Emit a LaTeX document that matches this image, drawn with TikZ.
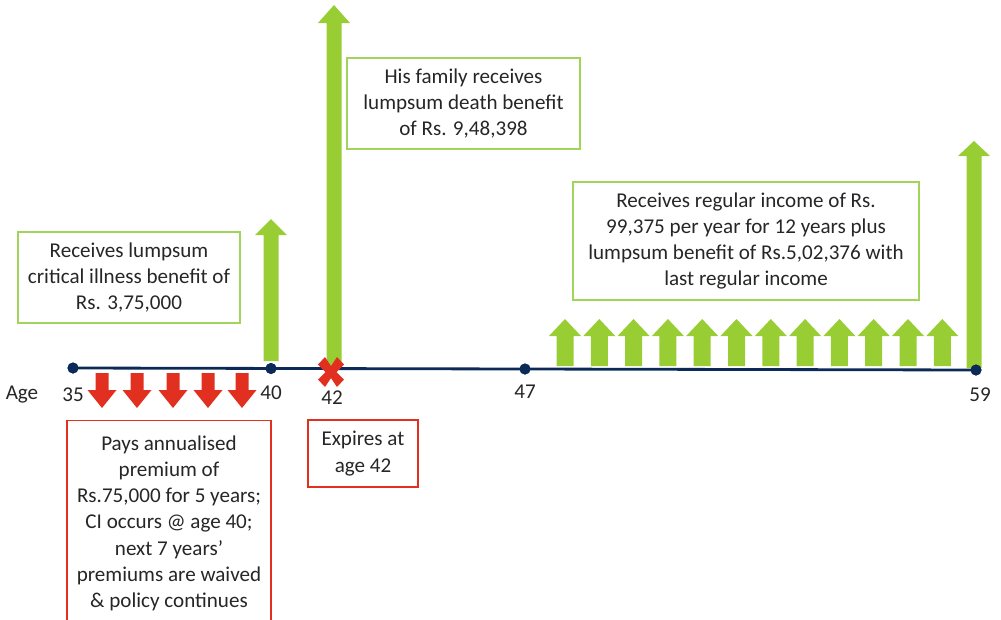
\documentclass[tikz,border=0pt]{standalone}
\usepackage{fontspec}
\setmainfont{Carlito}
\usepackage{xcolor}
\definecolor{navyline}{RGB}{12,42,88}
\definecolor{benefitgreen}{RGB}{152,206,52}
\definecolor{boxgreen}{RGB}{160,212,90}
\definecolor{premiumred}{RGB}{226,48,32}
\definecolor{textgray}{RGB}{38,38,38}
\usepackage{tikz}
\usetikzlibrary{calc}
% style, x, base y, neck y, tip y, half head, half shaft
\newcommand{\blockarrow}[7]{%
  \fill[#1] ({#2-#7},#3) -- ({#2-#7},#4) -- ({#2-#6},#4) -- (#2,#5)
    -- ({#2+#6},#4) -- ({#2+#7},#4) -- ({#2+#7},#3) -- cycle;}
\tikzset{
    px/.style={x=0.02cm, y=-0.02cm},
    txt/.style={text=textgray, font=\fontsize{12}{14.9}\selectfont, align=center},
    note/.style={txt, draw, line width=0.85pt, inner sep=0pt},
    greennote/.style={note, draw=boxgreen},
    rednote/.style={note, draw=premiumred},
    tick/.style={circle, fill=navyline, inner sep=0pt, minimum size=0.22cm},
    agelabel/.style={txt, inner sep=0pt},
    benefit/.style={fill=benefitgreen},
    premium/.style={fill=premiumred},
    timeline/.style={navyline, line width=1.6pt}
}

\begin{document}
\begin{tikzpicture}[px]
      \useasboundingbox (0,0) rectangle (1001,619);

      % benefits
      \blockarrow{benefit}{271}{361}{235}{219}{16}{7.5}
      \blockarrow{benefit}{334}{368}{23}{5}{16}{7.5}
      \blockarrow{benefit}{974}{368}{156}{141}{16}{7.5}
      \foreach \i in {0,...,11} {
          \blockarrow{benefit}{565+34.3*\i}{366}{336}{319}{16}{8.5}
      }

      % premiums
      \foreach \x in {102,137,173,208,242} {
          \blockarrow{premium}{\x}{373}{390}{408}{14.5}{6.5}
      }

      \path
          (73,368) node[tick] (t35) {}
          (271,368.5) node[tick] (t40) {}
          (525,369) node[tick] (t47) {}
          (976,370) node[tick] (t59) {};
      \draw[timeline] (t35.center) -- (t59.center);
      \path
          (73,368) node[tick] {}
          (271,368.5) node[tick] {}
          (525,369) node[tick] {}
          (976,370) node[tick] {};

      \fill[premium, shift={(331,372)}] (-13,-7.5) -- (-6,-15) -- (0,-6) -- (6,-15)
          -- (13,-7.5) -- (5.5,0) -- (13,7.5) -- (6,15) -- (0,6) -- (-6,15)
          -- (-13,7.5) -- (-5.5,0) -- cycle;

      \path
          (22,395) node[agelabel] (age) {Age}
          (73,395) node[agelabel] (age35) {35}
          (271,393) node[agelabel] (age40) {40}
          (332,398) node[agelabel] (age42) {42}
          (525,392) node[agelabel] (age47) {47}
          (980,395) node[agelabel] (age59) {59};

      \node[greennote, minimum width=4.44cm, minimum height=1.82cm] (ci-note) at (129,277.5)
          {Receives lumpsum\\critical illness benefit of\\Rs. 3,75,000};
      \node[greennote, minimum width=4.66cm, minimum height=1.82cm] (death-note) at (463.5,103.5)
          {His family receives\\lumpsum death benefit\\of Rs. 9,48,398};
      \node[greennote, minimum width=6.92cm, minimum height=2.36cm] (income-note) at (746,241)
          {Receives regular income of Rs.\\99,375 per year for 12 years plus\\lumpsum benefit of Rs.5,02,376 with\\last regular income};
      \node[rednote, minimum width=2.2cm, minimum height=1.34cm] (expiry-note) at (363,453.5)
          {Expires at\\age 42};
      \node[rednote, anchor=north, minimum width=4.08cm, inner ysep=8.5pt] (premium-note) at (169,420)
          {Pays annualised\\premium of\\Rs.75,000 for 5 years;\\CI occurs @ age 40;\\next 7 years'\\premiums are waived\\\& policy continues\\[8pt]};
\end{tikzpicture}
\end{document}
